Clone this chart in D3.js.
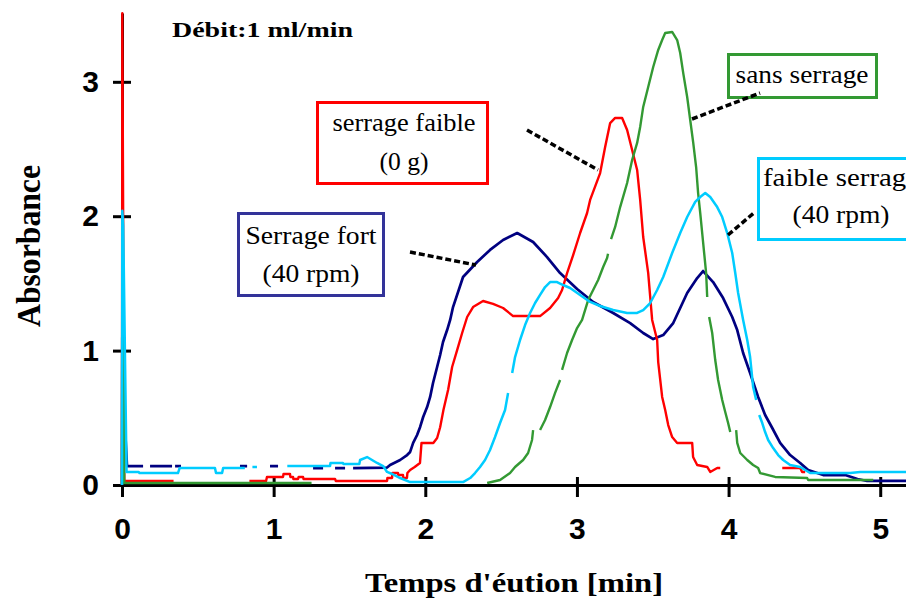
<!DOCTYPE html>
<html><head><meta charset="utf-8">
<script src="https://cdn.jsdelivr.net/npm/d3@7"></script>
<style>body{margin:0;background:#fff;} svg{display:block}</style>
</head><body><svg id="c" width="906" height="608"></svg>
<script>
// ---- data ----
const xTickValues = [0, 1, 2, 3, 4, 5];
const yTickValues = [0, 1, 2, 3];
const xTitle = "Temps d'éution [min]";
const yTitle = "Absorbance";
const noteTitle = "Débit:1 ml/min";

// [temps (min), absorbance]; null = no trace
const serrageFort = [
[0,0],[0.002,1.1],[0.004,0.77],[0.033,0.141],[0.139,0.141],[0.16,null],
[0.185,0.141],[0.33,0.141],[0.34,null],[0.35,0.141],[0.389,0.141],[0.5,null],
[0.778,0.141],[0.825,0.141],[0.9,null],[0.976,0.141],[1.029,0.141],[1.1,null],
[1.26,0.126],[1.326,0.126],[1.36,null],[1.405,0.126],[1.471,0.126],[1.5,null],
[1.524,0.126],[1.748,0.130],[1.768,0.149],[1.834,0.186],[1.880,0.223],[1.900,0.246],[1.920,0.313],
[1.946,0.372],[1.966,0.432],[1.986,0.506],[2.012,0.580],[2.032,0.655],[2.051,0.759],[2.078,0.878],
[2.098,0.967],[2.117,1.064],[2.144,1.153],[2.164,1.228],[2.183,1.324],[2.249,1.548],[2.342,1.659],
[2.427,1.749],[2.513,1.823],[2.606,1.875],[2.711,1.808],[2.803,1.696],[2.889,1.577],[3.001,1.458],
[3.107,1.362],[3.239,1.280],[3.351,1.205],[3.437,1.131],[3.503,1.086],[3.569,1.116],[3.635,1.205],
[3.727,1.429],[3.793,1.540],[3.832,1.592],[3.898,1.510],[3.964,1.391],[4.024,1.250],[4.057,1.153],
[4.096,0.982],[4.142,0.833],[4.195,0.655],[4.241,0.521],[4.288,0.424],[4.340,0.313],[4.406,0.223],
[4.472,0.164],[4.525,0.112],[4.624,0.074],[4.769,0.074],[4.85,0.045],[4.914,0.030],[5.17,0.030]
];
const serrageFaible = [
[0,0],[0.002,3.51],[0.015,0.03],[0.34,0.03],[0.35,null],
[0.84,0.03],[0.95,0.03],[0.956,0.06],[1.062,0.06],[1.065,0.082],[1.108,0.082],[1.11,0.06],[1.128,0.06],
[1.13,0.045],[1.161,0.045],[1.165,0.06],[1.194,0.06],[1.197,0.045],[1.405,0.045],[1.41,0.03],[1.748,0.03],
[1.75,0.052],[1.781,0.052],[1.783,0.089],[1.82,0.089],[1.822,0.074],[1.853,0.074],[1.855,0.052],[1.879,0.052],
[1.882,0.089],[1.90,0.112],[1.93,0.134],[1.965,0.164],[1.975,0.313],[2.053,0.313],[2.078,0.35],[2.098,0.43],
[2.12,0.56],[2.151,0.71],[2.177,0.878],[2.210,1.004],[2.243,1.131],[2.276,1.250],[2.315,1.324],[2.381,1.369],
[2.447,1.347],[2.513,1.317],[2.579,1.257],[2.757,1.257],[2.823,1.317],[2.876,1.391],[2.902,1.451],[2.935,1.577],
[2.975,1.711],[3.021,1.875],[3.067,2.024],[3.087,2.121],[3.153,2.321],[3.186,2.515],[3.219,2.693],[3.252,2.731],
[3.298,2.731],[3.331,2.641],[3.364,2.493],[3.397,2.344],[3.417,2.121],[3.437,1.845],[3.470,1.577],[3.496,1.228],
[3.529,1.079],[3.536,0.915],[3.562,0.655],[3.582,0.558],[3.602,0.446],[3.628,0.357],[3.661,0.313],[3.760,0.313],
[3.766,0.208],[3.793,0.149],[3.859,0.134],[3.879,0.097],[3.925,0.126],[3.945,0.126],[3.96,null],
[4.354,0.126],[4.472,0.126],[4.485,0.097],[4.505,0.097]
];
const sansSerrage = [
[0,0],[0.002,1.95],[0.012,1.1],[0.015,0.015],[1.25,0.015],[1.26,null],
[2.408,0.015],[2.493,0.037],[2.559,0.089],[2.592,0.134],[2.645,0.186],[2.678,0.238],[2.704,0.335],[2.711,0.409],[2.73,null],
[2.757,0.409],[2.790,0.484],[2.823,0.580],[2.856,0.685],[2.889,0.781],[2.895,null],[2.902,0.856],[2.935,0.982],
[2.968,1.079],[3.001,1.168],[3.034,1.228],[3.074,1.376],[3.107,1.451],[3.140,1.525],[3.173,1.622],[3.199,1.689],
[3.205,1.72],[3.21,null],[3.225,1.83],[3.252,1.920],[3.285,2.068],[3.331,2.247],[3.364,2.418],[3.397,2.545],
[3.417,2.664],[3.437,2.813],[3.470,2.961],[3.503,3.110],[3.536,3.237],[3.562,3.311],[3.582,3.363],[3.628,3.371],
[3.661,3.311],[3.681,3.214],[3.701,3.065],[3.727,2.887],[3.747,2.716],[3.767,2.545],[3.786,2.366],[3.799,2.173],
[3.813,2.024],[3.826,1.875],[3.839,1.726],[3.852,1.577],[3.859,1.399],[3.865,null],[3.872,1.250],[3.892,1.131],
[3.912,0.930],[3.931,0.781],[3.958,0.632],[3.978,0.543],[3.997,0.461],[4.011,0.394],[4.03,null],[4.050,0.409],
[4.057,0.313],[4.077,0.238],[4.123,0.186],[4.162,0.149],[4.195,0.126],[4.208,0.089],[4.307,0.060],[4.518,0.052],
[4.525,0.037],[4.954,0.037]
];
const faibleSerrage = [
[0,0],[0.002,2.04],[0.008,1.93],[0.03,0.097],[0.11,0.097],[0.115,0.089],[0.369,0.089],[0.38,0.126],[0.613,0.126],
[0.62,0.089],[0.66,0.089],[0.667,0.126],[0.81,0.126],[0.82,null],[0.86,0.134],[0.89,0.134],[0.9,null],
[1.09,0.141],[1.372,0.141],[1.375,0.164],[1.457,0.164],[1.46,0.156],[1.565,0.156],[1.57,0.186],[1.616,0.208],
[1.682,0.164],[1.722,0.141],[1.748,0.097],[1.781,0.082],[1.834,0.052],[1.900,0.022],[2.249,0.022],[2.296,0.052],
[2.328,0.089],[2.361,0.134],[2.394,0.186],[2.427,0.260],[2.460,0.357],[2.493,0.461],[2.526,0.558],[2.546,0.685],
[2.556,null],[2.573,0.833],[2.592,0.952],[2.625,1.079],[2.658,1.190],[2.691,1.280],[2.724,1.354],[2.757,1.414],
[2.790,1.473],[2.823,1.510],[2.869,1.510],[2.909,1.488],[2.955,1.466],[3.021,1.414],[3.087,1.362],[3.153,1.332],
[3.239,1.302],[3.331,1.280],[3.397,1.280],[3.437,1.302],[3.483,1.354],[3.529,1.451],[3.569,1.548],[3.628,1.726],
[3.681,1.875],[3.727,1.994],[3.780,2.106],[3.813,2.143],[3.846,2.173],[3.879,2.143],[3.925,2.068],[3.958,1.994],
[3.991,1.875],[4.024,1.726],[4.044,1.577],[4.063,1.429],[4.096,1.228],[4.123,1.079],[4.142,0.952],[4.162,0.729],
[4.182,0.632],[4.19,null],[4.202,0.521],[4.222,0.461],[4.241,0.394],[4.261,0.335],[4.294,0.275],[4.327,0.223],
[4.360,0.186],[4.406,0.149],[4.472,0.134],[4.538,0.089],[4.802,0.089],[4.868,0.097],[5.17,0.097]
];
const seriesNames = ["Serrage fort (40 rpm)", "serrage faible (0 g)", "sans serrage", "faible serrage (40 rpm)"];

// ---- layout ----
const serif = "'Liberation Serif','Times New Roman',serif";
const sans = "'Liberation Sans',Arial,sans-serif";
const x = d3.scaleLinear().domain([0, 5.17]).range([122, 906]);
const y = d3.scaleLinear().domain([0, 3.512]).range([485, 13]);
const svg = d3.select("#c");
svg.append("rect").attr("width", 906).attr("height", 608).attr("fill", "#fff");

// axes
const gx = svg.append("g").attr("transform", "translate(0,485)")
  .call(d3.axisBottom(x).tickValues(xTickValues).tickSizeInner(12).tickSizeOuter(0).tickPadding(21).tickFormat(d3.format("d")));
gx.select(".domain").attr("stroke", "#000").attr("stroke-width", 3);
gx.selectAll(".tick line").attr("y1", -8).attr("y2", 12).attr("stroke", "#000").attr("stroke-width", 3);
gx.selectAll(".tick text").attr("font-family", sans).attr("font-weight", "bold").attr("font-size", 30).attr("fill", "#000");

const gy = svg.append("g").attr("transform", "translate(122,0)")
  .call(d3.axisLeft(y).tickValues(yTickValues).tickSizeInner(9).tickSizeOuter(0).tickPadding(14).tickFormat(d3.format("d")));
gy.select(".domain").attr("stroke", "#000").attr("stroke-width", 3);
gy.selectAll(".tick line").attr("x1", 9).attr("stroke", "#000").attr("stroke-width", 3);
gy.selectAll(".tick text").attr("font-family", sans).attr("font-weight", "bold").attr("font-size", 30).attr("fill", "#000");

// lines
svg.append("clipPath").attr("id", "clip").append("rect").attr("x", 120).attr("y", 0).attr("width", 786).attr("height", 487);
const line = d3.line().defined(d => d[1] !== null).x(d => x(d[0])).y(d => y(d[1]));
const plot = svg.append("g").attr("clip-path", "url(#clip)");
const series = [
  {data: serrageFort, color: "#000080", w: 2.7},
  {data: serrageFaible, color: "#ff0000", w: 2.4},
  {data: sansSerrage, color: "#339933", w: 2.4},
  {data: faibleSerrage, color: "#00ccff", w: 2.5}
];
series.forEach(s => {
  plot.append("path").datum(s.data).attr("d", line).attr("fill", "none")
    .attr("stroke", s.color).attr("stroke-width", s.w).attr("stroke-linejoin", "round");
});

// annotation boxes
const boxes = [
  {lines: ["serrage faible", "(0 g)"], color: "#ff0000", x: 317.5, y: 102.5, w: 170, h: 81, cx: 404, base: [131, 170], len: [143, 49]},
  {lines: ["Serrage fort", "(40 rpm)"], color: "#333399", x: 238.5, y: 213.5, w: 145, h: 82, cx: 311, base: [244, 282], len: [131, 97]},
  {lines: ["sans serrage"], color: "#339933", x: 728.5, y: 54.5, w: 148, h: 43, cx: 802, base: [83], len: [133]},
  {lines: ["faible serrage", "(40 rpm)"], color: "#00ccff", x: 758.5, y: 158.5, w: 166, h: 81, cx: 841, base: [186, 223], len: [156, 97]}
];
boxes.forEach(b => {
  svg.append("rect").attr("x", b.x).attr("y", b.y).attr("width", b.w).attr("height", b.h)
    .attr("fill", "#fff").attr("stroke", b.color).attr("stroke-width", 3);
  b.lines.forEach((t, i) => {
    svg.append("text").attr("x", b.cx).attr("y", b.base[i]).attr("text-anchor", "middle")
      .attr("font-family", serif).attr("font-size", 26).attr("fill", "#000")
      .attr("textLength", b.len[i]).attr("lengthAdjust", "spacingAndGlyphs").text(t);
  });
});

// leaders
const leaders = [[410, 252, 476, 265], [527, 130, 598, 170], [692, 119, 760, 93], [728, 235, 755, 212]];
leaders.forEach(l => {
  svg.append("line").attr("x1", l[0]).attr("y1", l[1]).attr("x2", l[2]).attr("y2", l[3])
    .attr("stroke", "#000").attr("stroke-width", 3.5).attr("stroke-dasharray", "6,3");
});

// texts
svg.append("text").attr("x", 172).attr("y", 37).attr("font-family", serif).attr("font-weight", "bold")
  .attr("font-size", 21).attr("textLength", 181).attr("lengthAdjust", "spacingAndGlyphs").text(noteTitle);
svg.append("text").attr("x", 514).attr("y", 592).attr("text-anchor", "middle").attr("font-family", serif)
  .attr("font-weight", "bold").attr("font-size", 27).attr("textLength", 298).attr("lengthAdjust", "spacingAndGlyphs").text(xTitle);
svg.append("text").attr("transform", "translate(40,246) rotate(-90)").attr("text-anchor", "middle").attr("font-family", serif)
  .attr("font-weight", "bold").attr("font-size", 33).attr("textLength", 162).attr("lengthAdjust", "spacingAndGlyphs").text(yTitle);
</script></body></html>
